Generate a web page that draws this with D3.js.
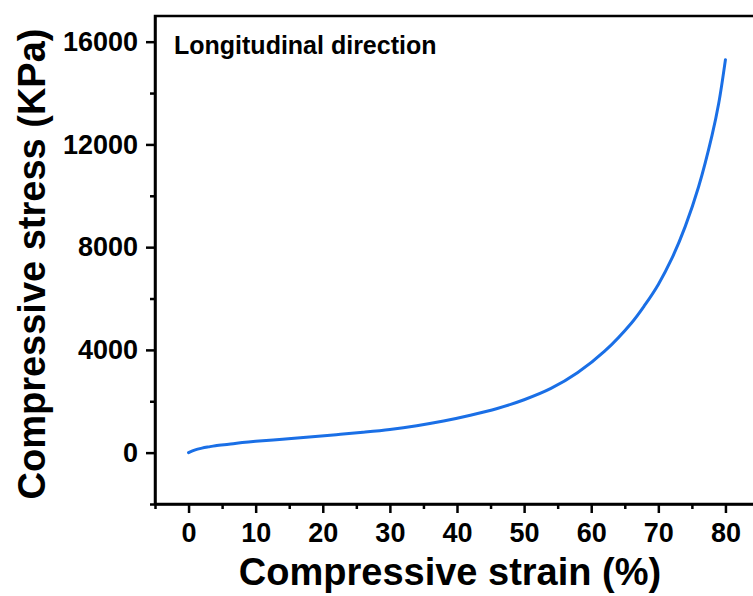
<!DOCTYPE html>
<html>
<head>
<meta charset="utf-8">
<script src="https://cdn.jsdelivr.net/npm/d3@7"></script>
<style>
  body { margin: 0; background: #fff; }
  svg { display: block; font-family: "Liberation Sans", Arial, sans-serif; }
  .axis path, .axis line { stroke: #000; stroke-width: 2.5; }
  .axis text { font-size: 27px; font-weight: bold; fill: #000; }
</style>
</head>
<body>
<div id="graphic"></div>
<script>
// strain (%) and stress (KPa)
var strain = [0, 1, 2, 3, 4, 6, 8, 10, 14, 18, 22, 26, 30, 34, 38, 42, 46, 50, 54, 58, 62, 66, 68, 70, 72, 74, 76, 78, 79, 80];
var stress = [0, 110, 175, 225, 270, 330, 390, 440, 525, 610, 700, 795, 905, 1050, 1230, 1455, 1720, 2060, 2500, 3120, 3950, 5050, 5750, 6550, 7550, 8800, 10350, 12350, 13600, 15300];

var xTicks = [0, 10, 20, 30, 40, 50, 60, 70, 80];
var xMinor = [-5, 5, 15, 25, 35, 45, 55, 65, 75, 85];
var yTicks = [0, 4000, 8000, 12000, 16000];
var yMinor = [-2000, 2000, 6000, 10000, 14000];

var w = 753, h = 596;
var pLeft = 155, pTop = 16, pRight = 759, pBottom = 504;

var svg = d3.select("#graphic")
    .append("svg")
    .attr("width", w)
    .attr("height", h);

var xScale = d3.scaleLinear().domain([-5, 85]).range([pLeft, pRight]);
var yScale = d3.scaleLinear().domain([-2000, 17000]).range([pBottom, pTop]);

// frame
svg.append("rect")
   .attr("x", pLeft)
   .attr("y", pTop)
   .attr("width", pRight - pLeft)
   .attr("height", pBottom - pTop)
   .attr("fill", "none")
   .attr("stroke", "#000")
   .attr("stroke-width", 2.5);

// minor ticks
svg.append("g")
   .attr("class", "axis")
   .attr("transform", "translate(0," + pBottom + ")")
   .call(d3.axisBottom(xScale).tickValues(xMinor).tickSize(5).tickFormat(""))
   .select(".domain").remove();
svg.append("g")
   .attr("class", "axis")
   .attr("transform", "translate(" + pLeft + ",0)")
   .call(d3.axisLeft(yScale).tickValues(yMinor).tickSize(5).tickFormat(""))
   .select(".domain").remove();

// major ticks
svg.append("g")
   .attr("class", "axis")
   .attr("transform", "translate(0," + pBottom + ")")
   .call(d3.axisBottom(xScale).tickValues(xTicks).tickSize(9).tickPadding(10).tickSizeOuter(0));
svg.append("g")
   .attr("class", "axis")
   .attr("transform", "translate(" + pLeft + ",0)")
   .call(d3.axisLeft(yScale).tickValues(yTicks).tickFormat(d3.format("d"))
         .tickSize(9).tickPadding(8).tickSizeOuter(0));

// curve
var pts = strain.map(function(s, i){ return [s, stress[i]]; });
svg.append("path")
   .datum(pts)
   .attr("fill", "none")
   .attr("stroke", "#1a6fe6")
   .attr("stroke-width", 3)
   .attr("stroke-linecap", "round")
   .attr("d", d3.line()
       .x(function(d){ return xScale(d[0]); })
       .y(function(d){ return yScale(d[1]); })
       .curve(d3.curveCatmullRom));

// labels
svg.append("text")
   .attr("x", 174)
   .attr("y", 54)
   .attr("font-size", 25)
   .attr("font-weight", "bold")
   .text("Longitudinal direction");

svg.append("text")
   .attr("x", 450)
   .attr("y", 585)
   .attr("text-anchor", "middle")
   .attr("font-size", 38)
   .attr("font-weight", "bold")
   .text("Compressive strain (%)");

svg.append("text")
   .attr("transform", "translate(45,264) rotate(-90)")
   .attr("text-anchor", "middle")
   .attr("font-size", 38)
   .attr("font-weight", "bold")
   .text("Compressive stress (KPa)");
</script>
</body>
</html>
